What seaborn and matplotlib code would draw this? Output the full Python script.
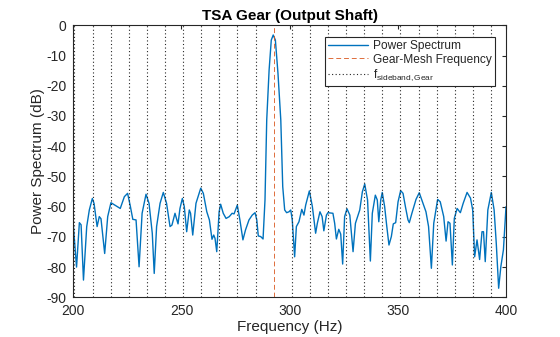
import numpy as np
import pandas as pd
import matplotlib
matplotlib.use("Agg")
import matplotlib.pyplot as plt
import seaborn as sns

# ---- data ----
freq = [200.0, 201.5, 202.8, 203.6, 204.7, 206.2, 207.4, 208.8, 209.6, 211.0,
        212.0, 212.8, 214.5, 215.9, 217.4, 219.7, 221.7, 223.6, 225.1, 226.4,
        227.5, 229.0, 230.4, 231.8, 233.6, 235.0, 236.5, 237.4, 238.5, 240.1,
        241.6, 243.1, 244.7, 245.6, 247.0, 248.4, 249.3, 250.4, 251.3, 252.4,
        253.6, 254.2, 255.2, 256.7, 258.9, 260.1, 261.7, 262.9, 264.1, 264.9,
        265.5, 266.3, 267.4, 268.1, 269.3, 270.6, 272.1, 273.4, 274.3, 275.8,
        277.0, 278.4, 279.6, 281.2, 282.7, 284.0, 284.8, 285.5, 286.6, 287.7,
        288.6, 289.4, 290.5, 291.5, 292.4, 293.4, 294.6, 295.9, 296.8, 297.7,
        298.6, 299.7, 300.5, 301.2, 302.3, 303.1, 304.3, 305.6, 306.6, 307.4,
        309.1, 310.5, 312.0, 312.8, 314.0, 315.0, 315.8, 317.0, 317.7, 320.0,
        320.8, 321.6, 322.7, 323.6, 324.5, 325.4, 326.5, 327.8, 329.3, 330.4,
        332.4, 333.6, 334.7, 336.0, 337.3, 338.2, 339.6, 340.5, 341.2, 342.1,
        342.8, 343.9, 344.9, 345.9, 347.0, 347.9, 349.0, 350.1, 351.3, 352.4,
        353.5, 354.7, 355.3, 356.5, 358.4, 359.9, 361.1, 363.0, 364.2, 365.5,
        366.6, 368.4, 369.6, 371.2, 372.3, 373.2, 374.1, 375.2, 376.1, 377.4,
        378.9, 380.2, 382.0, 383.6, 384.6, 385.5, 386.6, 387.8, 388.9, 389.6,
        390.4, 391.6, 393.2, 394.5, 395.5, 396.6, 397.6, 398.8, 400.0]
power = [-66.2, -80.0, -65.3, -66.0, -84.3, -66.6, -61.1, -57.3, -59.0, -66.6,
         -63.3, -64.0, -75.5, -63.3, -58.7, -59.7, -60.6, -56.7, -55.6, -60.0,
         -64.2, -64.4, -79.9, -62.2, -55.9, -58.9, -68.8, -82.1, -66.6, -58.9,
         -55.3, -58.9, -66.6, -66.1, -62.2, -65.7, -60.6, -57.3, -60.0, -68.3,
         -61.1, -62.2, -69.4, -58.9, -53.9, -55.6, -61.7, -64.4, -70.8, -69.4,
         -70.5, -74.9, -61.7, -59.2, -62.2, -63.9, -63.3, -62.2, -62.4, -59.5,
         -64.4, -71.0, -67.7, -64.4, -62.8, -62.0, -64.4, -69.7, -69.9, -70.7,
         -57.8, -31.3, -14.8, -4.9, -3.2, -4.9, -15.9, -31.3, -53.4, -61.1,
         -62.0, -61.7, -61.1, -64.4, -76.6, -66.6, -65.0, -60.9, -62.8, -59.5,
         -54.8, -60.0, -68.8, -65.5, -61.7, -63.3, -68.0, -62.8, -62.0, -62.2,
         -65.5, -70.7, -67.5, -69.1, -79.0, -63.3, -60.7, -62.8, -74.9, -65.5,
         -61.1, -55.1, -52.5, -57.8, -78.0, -62.2, -56.2, -57.8, -65.0, -57.8,
         -55.3, -60.0, -66.6, -72.7, -69.9, -65.7, -65.3, -58.4, -54.7, -55.6,
         -60.0, -64.4, -65.3, -62.2, -57.6, -55.4, -57.8, -61.7, -66.6, -80.4,
         -65.5, -57.6, -58.4, -63.3, -71.4, -65.0, -65.5, -79.3, -63.9, -60.6,
         -62.0, -58.9, -55.3, -57.2, -61.1, -76.6, -71.0, -77.5, -68.3, -68.3,
         -78.2, -61.1, -55.3, -61.1, -72.2, -87.0, -79.9, -74.3, -60.0]

gear_mesh_freq = 292.6
sideband_freqs = [200.53, 208.90, 217.27, 225.64, 234.01, 242.38, 250.75,
                  259.12, 267.49, 275.86, 284.23, 300.97, 309.34, 317.71,
                  326.08, 334.45, 342.82, 351.19, 359.56, 367.93, 376.30,
                  384.67, 393.04]

x_ticks = [200, 250, 300, 350, 400]
y_ticks = [-90, -80, -70, -60, -50, -40, -30, -20, -10, 0]

# ---- style ----
sns.set_theme(style="white")
plt.rcParams['font.family'] = ['Liberation Sans', 'DejaVu Sans']
plt.rcParams['mathtext.fontset'] = 'custom'
plt.rcParams['mathtext.rm'] = 'Liberation Sans'
plt.rcParams['mathtext.it'] = 'Liberation Sans'

fig = plt.figure(figsize=(5.6, 3.37), dpi=100)
fig.patch.set_facecolor('white')
ax = fig.add_axes([0.1309, 0.1178, 0.7727, 0.8071])

df = pd.DataFrame({"Frequency": freq, "Power": power})
sns.lineplot(data=df, x="Frequency", y="Power", ax=ax, color="#0072BD",
             linewidth=1.0, label="Power Spectrum", sort=False)

ax.axvline(gear_mesh_freq, color="#D95319", linestyle=(0, (5, 3)),
           linewidth=0.7, alpha=0.85, label="Gear-Mesh Frequency")
for i, f in enumerate(sideband_freqs):
    ax.axvline(f, color="#262626", linestyle=(0, (1, 2.2)), linewidth=0.8,
               label=r"f$_{\mathrm{sideband,Gear}}$" if i == 0 else None)

ax.set_xlim(200, 400)
ax.set_ylim(-90, 0)
ax.set_xticks(x_ticks)
ax.set_yticks(y_ticks)
ax.set_xticklabels([str(t) for t in x_ticks], fontsize=10)
ax.set_yticklabels([str(t) for t in y_ticks], fontsize=10)
ax.tick_params(direction='in', top=True, right=True, length=3, width=0.8,
               colors='#262626')
ax.tick_params(axis='x', pad=5)
ax.tick_params(axis='y', pad=5)
for s in ax.spines.values():
    s.set_color('#262626')
    s.set_linewidth(0.8)

ax.set_xlabel("Frequency (Hz)", fontsize=11, color='#262626', labelpad=1)
ax.set_ylabel("Power Spectrum (dB)", fontsize=11, color='#262626', labelpad=1)
ax.set_title("TSA Gear (Output Shaft)", fontsize=11, fontweight='bold',
             color='#000000', pad=4)

leg = ax.legend(loc='upper right', bbox_to_anchor=(0.9746, 0.958),
                borderaxespad=0, fontsize=8.6, frameon=True, fancybox=False,
                handlelength=3.3, handletextpad=0.45, labelspacing=0.15,
                borderpad=0.25)
leg.get_frame().set_edgecolor('#262626')
leg.get_frame().set_linewidth(0.8)
leg.get_frame().set_alpha(1)

fig.savefig("out.png", dpi=100, facecolor='white')
